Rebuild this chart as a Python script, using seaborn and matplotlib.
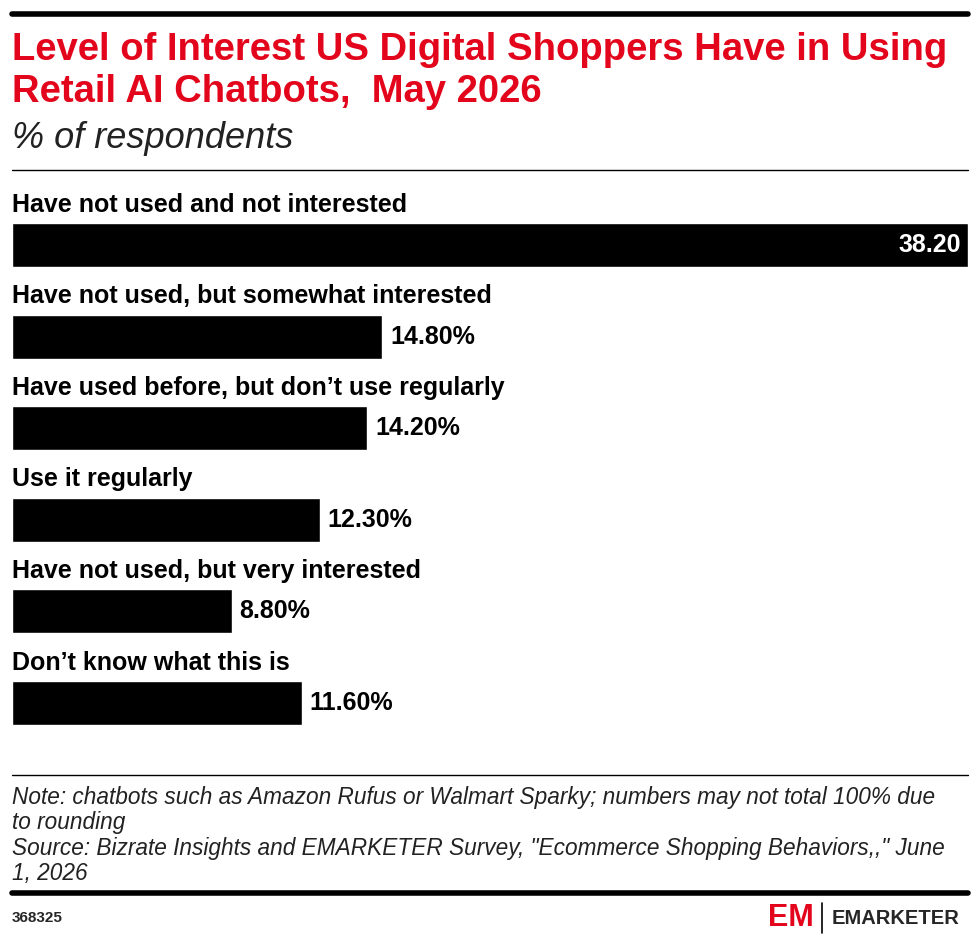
import matplotlib.pyplot as plt
import seaborn as sns
import pandas as pd

categories = [
    "Have not used and not interested",
    "Have not used, but somewhat interested",
    "Have used before, but don\u2019t use regularly",
    "Use it regularly",
    "Have not used, but very interested",
    "Don\u2019t know what this is",
]
values = [38.20, 14.80, 14.20, 12.30, 8.80, 11.60]
value_labels = ["38.20", "14.80%", "14.20%", "12.30%", "8.80%", "11.60%"]

df = pd.DataFrame({"category": categories, "value": values})

sns.set_theme(style="white")
plt.rcParams["font.family"] = ["Liberation Sans", "DejaVu Sans"]

W, H = 980, 947
fig = plt.figure(figsize=(W / 100, H / 100), dpi=100)


def fy(p):
    return 1 - p / H


ax = fig.add_axes([12 / W, fy(748.8), (968 - 12) / W, 595.4 / H])
sns.barplot(data=df, x="value", y="category", color="black", width=0.48,
            orient="h", ax=ax, saturation=1)
ax.set_xlim(0, 38.2)
ax.set_ylim(5.5, -1)
ax.axis("off")

for i, (cat, v, lab) in enumerate(zip(categories, values, value_labels)):
    ax.text(0, i - 0.44, cat, ha="left", va="center", fontsize=18,
            fontweight="bold", color="black")
    if i == 0:
        ax.text(v - 0.3, i, lab, ha="right", va="center", fontsize=18,
                fontweight="bold", color="white")
    else:
        ax.text(v + 0.3, i, lab, ha="left", va="center", fontsize=18,
                fontweight="bold", color="black")

# rules
fig.add_artist(plt.Line2D([12 / W, 968 / W], [fy(14)] * 2, color="black", lw=4))
fig.add_artist(plt.Line2D([12 / W, 968 / W], [fy(170)] * 2, color="black", lw=1))
fig.add_artist(plt.Line2D([12 / W, 968 / W], [fy(775)] * 2, color="black", lw=1))
fig.add_artist(plt.Line2D([12 / W, 968 / W], [fy(893)] * 2, color="black", lw=4))

red = "#e3051b"
fig.text(12 / W, fy(50), "Level of Interest US Digital Shoppers Have in Using",
         fontsize=27.5, fontweight="bold", color=red, va="center")
fig.text(12 / W, fy(92), "Retail AI Chatbots,  May 2026",
         fontsize=27.5, fontweight="bold", color=red, va="center")
fig.text(12 / W, fy(139), "% of respondents", fontsize=26, style="italic",
         color="#222222", va="center")

notes = [
    "Note: chatbots such as Amazon Rufus or Walmart Sparky; numbers may not total 100% due",
    "to rounding",
    "Source: Bizrate Insights and EMARKETER Survey, \"Ecommerce Shopping Behaviors,,\" June",
    "1, 2026",
]
for k, line in enumerate(notes):
    fig.text(12 / W, fy(797 + 25.5 * k), line, fontsize=16.3, style="italic",
             color="#222222", va="center")

fig.text(12 / W, fy(918), "368325", fontsize=11, fontweight="bold", va="center")
fig.text(768 / W, fy(918), "EM", fontsize=22, fontweight="bold", color=red,
         va="center")
fig.add_artist(plt.Line2D([822 / W] * 2, [fy(903), fy(933)], color="black", lw=1.2))
fig.text(832 / W, fy(918), "EMARKETER", fontsize=14.5, fontweight="bold",
         va="center")

fig.savefig("out.png", dpi=100)
